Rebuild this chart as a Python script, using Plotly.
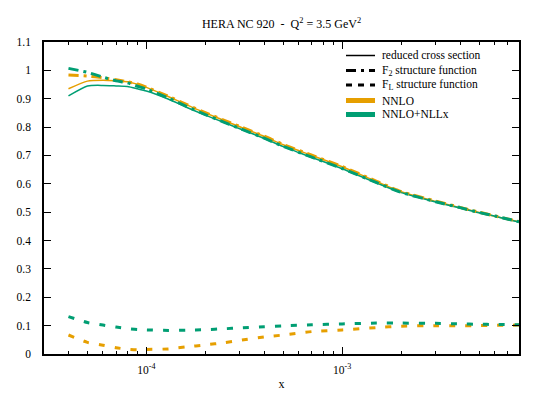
import plotly.graph_objects as go

# x grid shared by all curves
x = [4e-5, 5e-5, 6e-5, 7e-5, 8e-5, 9e-5, 1e-4, 1.3e-4, 1.6e-4, 2e-4, 2.5e-4, 3e-4,
     4e-4, 5e-4, 7e-4, 1e-3, 1.5e-3, 2e-3, 3e-3, 4e-3, 5e-3, 6e-3, 8e-3]

# reduced cross section
sigr_nnlo = [0.935, 0.962, 0.965, 0.963, 0.960, 0.951, 0.940, 0.907, 0.879, 0.850, 0.823, 0.801,
             0.767, 0.738, 0.700, 0.660, 0.608, 0.572, 0.538, 0.516, 0.499, 0.486, 0.466]
sigr_nllx = [0.910, 0.945, 0.947, 0.945, 0.943, 0.935, 0.927, 0.898, 0.870, 0.842, 0.816, 0.794,
             0.760, 0.731, 0.693, 0.653, 0.603, 0.569, 0.536, 0.515, 0.498, 0.486, 0.465]

# F2 structure function
f2_nnlo = [0.984, 0.980, 0.974, 0.967, 0.960, 0.952, 0.941, 0.908, 0.880, 0.851, 0.824, 0.802,
           0.768, 0.739, 0.701, 0.661, 0.609, 0.573, 0.539, 0.517, 0.500, 0.487, 0.467]
f2_nllx = [1.007, 0.993, 0.976, 0.963, 0.956, 0.944, 0.934, 0.902, 0.873, 0.844, 0.817, 0.795,
           0.761, 0.732, 0.694, 0.654, 0.604, 0.570, 0.537, 0.516, 0.499, 0.487, 0.466]

# FL structure function
fl_nnlo = [0.067, 0.041, 0.031, 0.022, 0.017, 0.015, 0.016, 0.018, 0.025, 0.032, 0.040, 0.048,
           0.060, 0.067, 0.079, 0.085, 0.093, 0.098, 0.100, 0.100, 0.100, 0.101, 0.102]
fl_nllx = [0.132, 0.111, 0.102, 0.095, 0.089, 0.086, 0.085, 0.083, 0.084, 0.086, 0.089, 0.092,
           0.096, 0.099, 0.103, 0.106, 0.109, 0.109, 0.108, 0.106, 0.105, 0.104, 0.103]

ORANGE = "#E69F00"
GREEN = "#009E73"
FONT = "Liberation Serif"

legend_labels = ["reduced cross section", "F<sub>2</sub> structure function",
                 "F<sub>L</sub> structure function", "NNLO", "NNLO+NLLx"]

fig = go.Figure()

DASHDOT = "10px,5px,3px,5px"
DASH = "6px,10px"
styles = [
    (sigr_nnlo, ORANGE, "solid", 1.5), (sigr_nllx, GREEN, "solid", 1.5),
    (f2_nnlo, ORANGE, DASHDOT, 3), (f2_nllx, GREEN, DASHDOT, 3),
    (fl_nnlo, ORANGE, DASH, 3), (fl_nllx, GREEN, DASH, 3),
]
for ys, col, dash, w in styles:
    fig.add_trace(go.Scatter(x=x, y=ys, mode="lines", showlegend=False, hoverinfo="skip",
                             line=dict(color=col, dash=dash, width=w, shape="spline", smoothing=0.6)))

# the page puts the plot 8px in from the top-left corner, so shift everything back
OFF = 8
# plot area as seen in the picture
L, R, T, B = 44, 519, 42, 354
def px(xp):
    return (xp - L) / (R - L)
def py(yp):
    return (B - yp) / (B - T)

# hand-made legend (gnuplot style, tight rows)
rows = [55.5, 70.5, 85, 100.5, 114.5]
shapes = []
for i, (yr, lab) in enumerate(zip(rows, legend_labels)):
    if i < 3:
        dash = ["solid", DASHDOT, "6px,6px"][i]
        width = [1.5, 3, 3][i]
        shapes.append(dict(type="line", xref="paper", yref="paper", x0=px(346), x1=px(375),
                           y0=py(yr), y1=py(yr), line=dict(color="black", width=width, dash=dash)))
    else:
        col = ORANGE if i == 3 else GREEN
        shapes.append(dict(type="rect", xref="paper", yref="paper", x0=px(346), x1=px(375),
                           y0=py(yr + 2.5), y1=py(yr - 2.5), fillcolor=col, line=dict(width=0)))
    fig.add_annotation(text=lab, xref="paper", yref="paper", x=px(380), y=py(yr),
                       xanchor="left", yanchor="middle", showarrow=False,
                       font=dict(family=FONT, size=11.5, color="black"))

minor_x = [3e-5, 4e-5, 5e-5, 6e-5, 7e-5, 8e-5, 9e-5,
           2e-4, 3e-4, 4e-4, 5e-4, 6e-4, 7e-4, 8e-4, 9e-4,
           2e-3, 3e-3, 4e-3, 5e-3, 6e-3, 7e-3]

fig.update_layout(
    template="none",
    width=540, height=395,
    margin=dict(l=L - OFF, r=540 - R + OFF, t=T - OFF, b=395 - B + OFF, pad=0),
    plot_bgcolor="white", paper_bgcolor="white",
    font=dict(family=FONT, size=11.5, color="black"),
    title=dict(text="HERA NC 920  -  Q<sup>2</sup> = 3.5 GeV<sup>2</sup>",
               x=((L + R) / 2 - OFF) / 540, xanchor="center",
               y=1 - 16 / 395, yanchor="middle",
               font=dict(family=FONT, size=12, color="black")),
    shapes=shapes,
    showlegend=False,
)
fig.update_xaxes(
    type="log", range=[-4.5229, -2.0969], automargin=False,
    tickvals=[1e-4, 1e-3], ticktext=["10<sup>-4</sup>", "10<sup>-3</sup>"],
    ticks="inside", ticklen=7, tickwidth=1, tickcolor="black", ticklabelstandoff=4,
    minor=dict(tickvals=minor_x, ticks="inside", ticklen=3.5, tickcolor="black", showgrid=False),
    showline=True, linecolor="black", linewidth=1.5, mirror="ticks",
    showgrid=False, zeroline=False,
    title=dict(text="x", standoff=5, font=dict(size=12)),
)
fig.update_yaxes(
    range=[0, 1.1], automargin=False, tickvals=[i / 10 for i in range(12)],
    ticktext=["0", "0.1", "0.2", "0.3", "0.4", "0.5", "0.6", "0.7", "0.8", "0.9", "1", "1.1"],
    ticks="inside", ticklen=7, tickwidth=1, tickcolor="black",
    showline=True, linecolor="black", linewidth=1.5, mirror="ticks",
    showgrid=False, zeroline=False, ticklabelstandoff=9,
)

fig.write_html("out.html")
